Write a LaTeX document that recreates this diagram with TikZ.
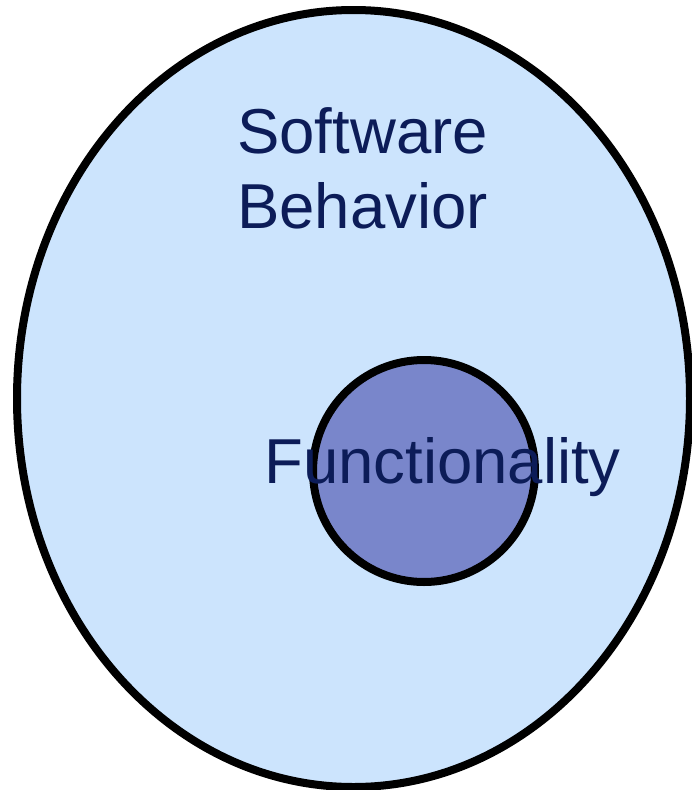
\documentclass[tikz,border=0pt]{standalone}
\usepackage{fontspec}
\setmainfont{Liberation Sans}
\definecolor{behaviorfill}{RGB}{204,228,253}
\definecolor{functionfill}{RGB}{121,134,203}
\definecolor{labeltext}{RGB}{12,28,88}
\tikzset{
  setline/.style={draw=black, line width=8pt},
  setlabel/.style={text=labeltext, font=\fontsize{63.5}{75}\selectfont, inner sep=0pt, align=left}
}
\begin{document}
\begin{tikzpicture}[x=1pt, y=-1pt]
  \useasboundingbox (0,0) rectangle (691,790);
  % outer set: all software behavior
  \path[setline, fill=behaviorfill] (353.5,398.5) ellipse [x radius=336.5, y radius=388.5];
  % inner set: functionality
  \path[setline, fill=functionfill] (424,471) circle [radius=111];
  % labels (base anchor of a two-line node sits on its last line)
  \node[setlabel, anchor=base west] (behavior) at (237,228) {Software\\Behavior};
  \node[setlabel, anchor=base west] (functionality) at (264,483) {Functionality};
\end{tikzpicture}
\end{document}
